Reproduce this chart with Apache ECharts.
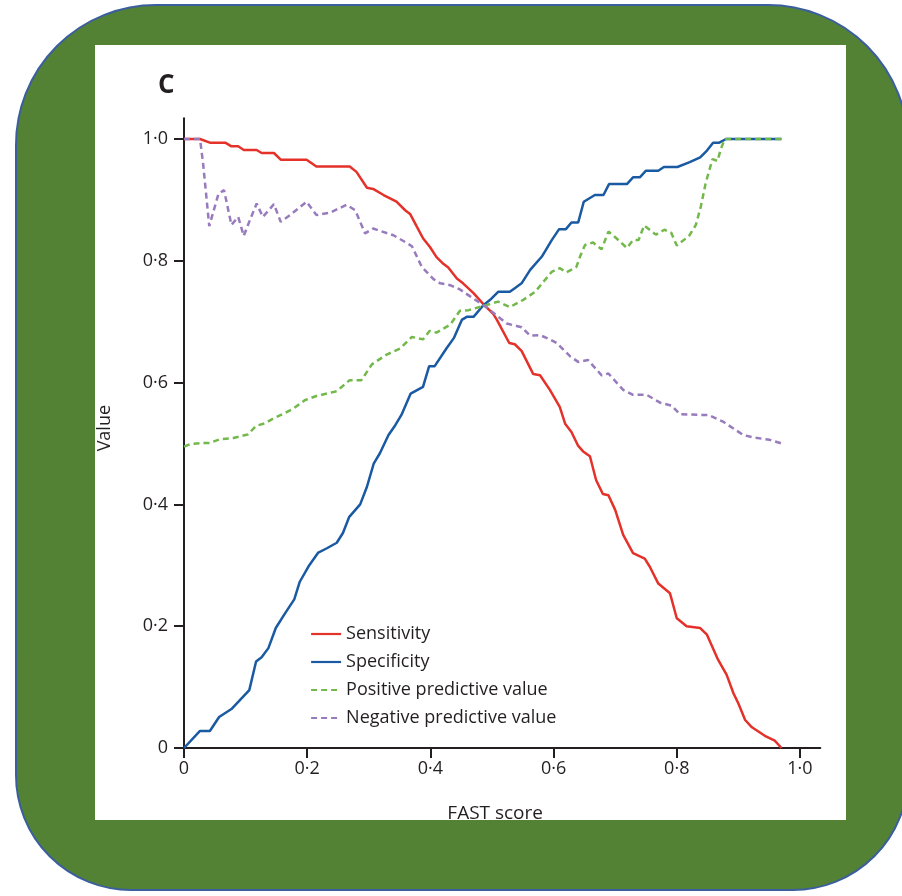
<!DOCTYPE html>
<html>
<head>
<meta charset="utf-8">
<script src="https://cdn.jsdelivr.net/npm/echarts@6/dist/echarts.min.js"></script>
<style>html,body{margin:0;padding:0;background:#fff;}#c{width:902px;height:896px;}</style>
</head>
<body>
<div id="c"></div>
<script>
const FONT = "'Open Sans', sans-serif";
const seriesNames = ['Sensitivity', 'Specificity', 'Positive predictive value', 'Negative predictive value'];
const tickValues = [0, 0.2, 0.4, 0.6, 0.8, 1.0];
const tickLabels = ['0', '0·2', '0·4', '0·6', '0·8', '1·0'];

const sensX = [0,0.026,0.042,0.067,0.077,0.088,0.097,0.118,0.126,0.146,0.157,0.199,0.215,0.269,0.280,0.297,0.307,0.324,0.345,0.359,0.367,0.378,0.388,0.399,0.410,0.421,0.429,0.443,0.453,0.470,0.486,0.502,0.508,0.528,0.537,0.548,0.567,0.578,0.594,0.610,0.619,0.629,0.640,0.648,0.659,0.669,0.680,0.689,0.700,0.713,0.729,0.748,0.756,0.770,0.789,0.800,0.816,0.838,0.849,0.867,0.881,0.892,0.900,0.911,0.922,0.943,0.959,0.970];
const sensY = [1.0,1.0,0.994,0.994,0.988,0.988,0.982,0.982,0.977,0.977,0.966,0.966,0.955,0.955,0.946,0.920,0.918,0.908,0.897,0.883,0.877,0.856,0.837,0.823,0.806,0.795,0.789,0.771,0.763,0.747,0.729,0.713,0.703,0.665,0.663,0.652,0.614,0.612,0.588,0.560,0.532,0.519,0.496,0.487,0.479,0.440,0.417,0.415,0.391,0.350,0.320,0.311,0.298,0.270,0.254,0.213,0.200,0.197,0.186,0.145,0.120,0.090,0.073,0.046,0.034,0.020,0.012,0.0];

const specX = [0,0.026,0.042,0.057,0.077,0.106,0.117,0.126,0.137,0.149,0.164,0.179,0.188,0.202,0.218,0.232,0.248,0.258,0.268,0.286,0.297,0.308,0.318,0.332,0.343,0.353,0.368,0.388,0.398,0.407,0.426,0.438,0.451,0.459,0.470,0.486,0.497,0.510,0.529,0.537,0.548,0.562,0.581,0.597,0.609,0.620,0.629,0.640,0.649,0.667,0.681,0.690,0.719,0.729,0.740,0.750,0.770,0.779,0.801,0.821,0.838,0.849,0.859,0.869,0.880,0.970];
const specY = [0,0.028,0.028,0.051,0.064,0.095,0.142,0.149,0.164,0.197,0.221,0.244,0.273,0.298,0.321,0.328,0.337,0.353,0.379,0.400,0.429,0.467,0.484,0.514,0.530,0.547,0.582,0.593,0.627,0.627,0.656,0.673,0.703,0.708,0.708,0.727,0.736,0.749,0.749,0.755,0.763,0.785,0.807,0.834,0.852,0.852,0.863,0.863,0.897,0.908,0.908,0.926,0.926,0.937,0.937,0.948,0.948,0.954,0.954,0.962,0.970,0.981,0.994,0.994,1.0,1.0];

const ppvX = [0,0.010,0.029,0.042,0.058,0.080,0.104,0.117,0.131,0.145,0.164,0.177,0.196,0.215,0.232,0.248,0.269,0.288,0.305,0.329,0.351,0.370,0.388,0.399,0.410,0.432,0.448,0.462,0.483,0.510,0.529,0.551,0.570,0.597,0.610,0.621,0.637,0.643,0.651,0.664,0.678,0.689,0.702,0.719,0.729,0.738,0.747,0.766,0.780,0.791,0.800,0.820,0.831,0.839,0.847,0.858,0.866,0.872,0.878,0.970];
const ppvY = [0.495,0.499,0.501,0.501,0.507,0.509,0.515,0.529,0.533,0.541,0.550,0.557,0.571,0.578,0.582,0.586,0.604,0.604,0.630,0.646,0.656,0.675,0.671,0.685,0.682,0.695,0.718,0.719,0.725,0.733,0.724,0.736,0.749,0.782,0.788,0.781,0.790,0.807,0.826,0.830,0.819,0.848,0.837,0.821,0.834,0.834,0.858,0.843,0.851,0.846,0.825,0.841,0.859,0.889,0.928,0.967,0.964,0.985,1.0,1.0];

const npvX = [0,0.026,0.031,0.041,0.056,0.065,0.077,0.088,0.097,0.107,0.118,0.128,0.146,0.157,0.172,0.199,0.215,0.237,0.264,0.278,0.294,0.307,0.340,0.362,0.370,0.386,0.405,0.416,0.432,0.448,0.464,0.486,0.497,0.524,0.540,0.548,0.562,0.578,0.594,0.605,0.627,0.640,0.656,0.678,0.689,0.713,0.729,0.751,0.773,0.792,0.805,0.838,0.851,0.875,0.908,0.924,0.951,0.970];
const npvY = [1.0,1.0,0.960,0.857,0.910,0.916,0.859,0.872,0.841,0.867,0.894,0.872,0.893,0.864,0.875,0.897,0.875,0.879,0.892,0.883,0.845,0.853,0.842,0.829,0.824,0.790,0.770,0.763,0.760,0.753,0.742,0.727,0.719,0.697,0.693,0.691,0.677,0.678,0.671,0.665,0.643,0.634,0.637,0.612,0.615,0.588,0.580,0.580,0.567,0.562,0.548,0.547,0.547,0.536,0.514,0.510,0.506,0.500];

const colors = ['#e4322b', '#1a5aa3', '#72b84a', '#977bbd'];
const zip = (xs, ys) => xs.map((x, i) => [x, ys[i]]);
const seriesData = [zip(sensX, sensY), zip(specX, specY), zip(ppvX, ppvY), zip(npvX, npvY)];
const fmt = v => { const i = tickValues.findIndex(t => Math.abs(t - v) < 1e-6); return i >= 0 ? tickLabels[i] : ''; };

const chart = echarts.init(document.getElementById('c'), null, {renderer: 'canvas'});
const axisCommon = {
  type: 'value', min: 0,
  axisLine: {show: true, lineStyle: {color: '#231f20', width: 2}},
  axisTick: {show: true, inside: false, length: 10, lineStyle: {color: '#231f20', width: 2}, customValues: tickValues},
  axisLabel: {color: '#231f20', fontFamily: FONT, fontSize: 18, formatter: fmt, customValues: tickValues},
  splitLine: {show: false},
  nameTextStyle: {color: '#231f20', fontFamily: FONT, fontSize: 18}
};
chart.setOption({
  backgroundColor: 'transparent',
  animation: false,
  color: colors,
  title: {text: 'C', left: 153, top: 68, textStyle: {color: '#231f20', fontFamily: FONT, fontSize: 26, fontWeight: 'bold'}},
  graphic: [
    {type: 'rect', z: -100, silent: true, shape: {x: 16, y: 5, width: 892, height: 885, r: [140, 140, 115, 115]}, style: {fill: '#548235', stroke: '#3b5f9e', lineWidth: 2}},
    {type: 'rect', z: -99, silent: true, shape: {x: 95, y: 45, width: 751, height: 775}, style: {fill: '#ffffff'}},
    {type: 'rect', z: 100, silent: true, shape: {x: 95, y: 820, width: 751, height: 25}, style: {fill: '#548235'}}
  ],
  grid: {left: 184, right: 81.7, top: 118.3, bottom: 148, containLabel: false},
  xAxis: Object.assign({}, axisCommon, {max: 1.033, name: 'FAST score', nameLocation: 'middle', nameGap: 56,
    nameTextStyle: Object.assign({}, axisCommon.nameTextStyle, {fontSize: 19, padding: [0, 14, 0, 0]}),
    axisLabel: Object.assign({}, axisCommon.axisLabel, {margin: 12})}),
  yAxis: Object.assign({}, axisCommon, {max: 1.034, name: 'Value', nameLocation: 'middle', nameGap: 70, nameRotate: 90,
    nameTextStyle: Object.assign({}, axisCommon.nameTextStyle, {padding: [0, 0, 0, 10]}),
    axisLabel: Object.assign({}, axisCommon.axisLabel, {margin: 16})}),
  legend: {
    orient: 'vertical', left: 305, top: 620, itemWidth: 30, itemHeight: 14, itemGap: 10,
    itemStyle: {opacity: 0},
    lineStyle: {width: 2.2},
    textStyle: {color: '#231f20', fontFamily: FONT, fontSize: 18, lineHeight: 18},
    data: seriesNames
  },
  series: seriesNames.map((n, i) => ({
    name: n, type: 'line', data: seriesData[i], symbol: 'none', showSymbol: false,
    lineStyle: {color: colors[i], width: 2.5, type: i >= 2 ? [6, 4] : 'solid'},
    itemStyle: {color: colors[i]}
  }))
});
</script>
</body>
</html>
